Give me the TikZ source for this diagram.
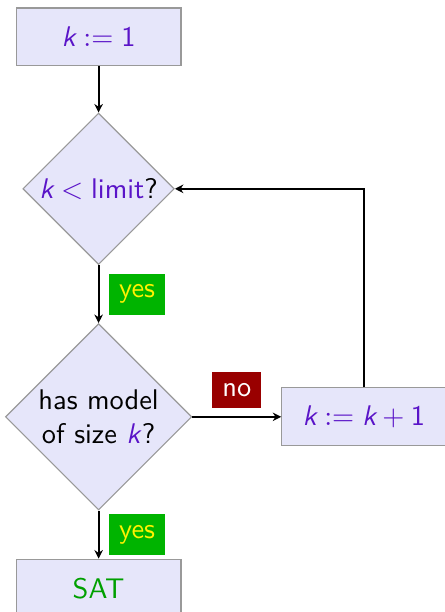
\documentclass[tikz,border=0pt]{standalone}
\usepackage{xcolor}
\usepackage{tikz}
\usepackage{amsmath}
\usetikzlibrary{arrows.meta,positioning,shapes.geometric}
\definecolor{Lav}{HTML}{E6E6FA}
\definecolor{Frame}{HTML}{999999}
\definecolor{Violet}{HTML}{5A14C8}
\definecolor{Yes}{HTML}{00B400}
\definecolor{YesText}{HTML}{FFF200}
\definecolor{No}{HTML}{990000}
\definecolor{Sat}{HTML}{00A000}
\newcommand{\kv}{\textit{k}}

\begin{document}
\begin{tikzpicture}[
    font=\sffamily,
    n/.style={draw=Frame,fill=Lav,line width=0.4pt,minimum width=58pt,minimum height=20.4pt,inner sep=0pt},
    d/.style={draw=Frame,fill=Lav,line width=0.4pt,diamond,aspect=1,inner sep=0pt,align=center},
    a/.style={-{Stealth[length=3pt,width=3pt]},line width=0.7pt},
    yes/.style={fill=Yes,text=YesText,inner xsep=3.6pt,inner ysep=3.9pt},
    no/.style={fill=No,text=white,inner xsep=3.6pt,inner ysep=3.9pt}]
    \useasboundingbox (0,0) rectangle (156.3pt,-215.4pt);
    \node[n] (init) at (34.7pt,-13pt) {\color{Violet}$\kv \mathrel{:=} \text{1}$};
    \node[d,minimum size=53.3pt,below=16.2pt of init] (cond) {\color{Violet}$\kv < \text{limit}$\color{black}?};
    \node[d,minimum size=65.6pt,below=20.4pt of cond] (model) {has model\\of size {\color{Violet}\kv}?};
    \node[n,below=16.9pt of model] (sat) {\color{Sat}SAT};
    \node[n,minimum width=57.7pt,right=31.3pt of model] (inc) {\color{Violet}$\kv \mathrel{:=} \kv + \text{1}$};
    \draw[a] (init)--(cond);
    \draw[a] (cond)--node[yes,midway,right=3.3pt]{yes}(model);
    \draw[a] (model)--node[yes,midway,right=3.3pt]{yes}(sat);
    \draw[a] (model)--node[no,midway,above=2.8pt]{no}(inc);
    \draw[a] (inc.north) |- (cond.east);
  \end{tikzpicture}
\end{document}
